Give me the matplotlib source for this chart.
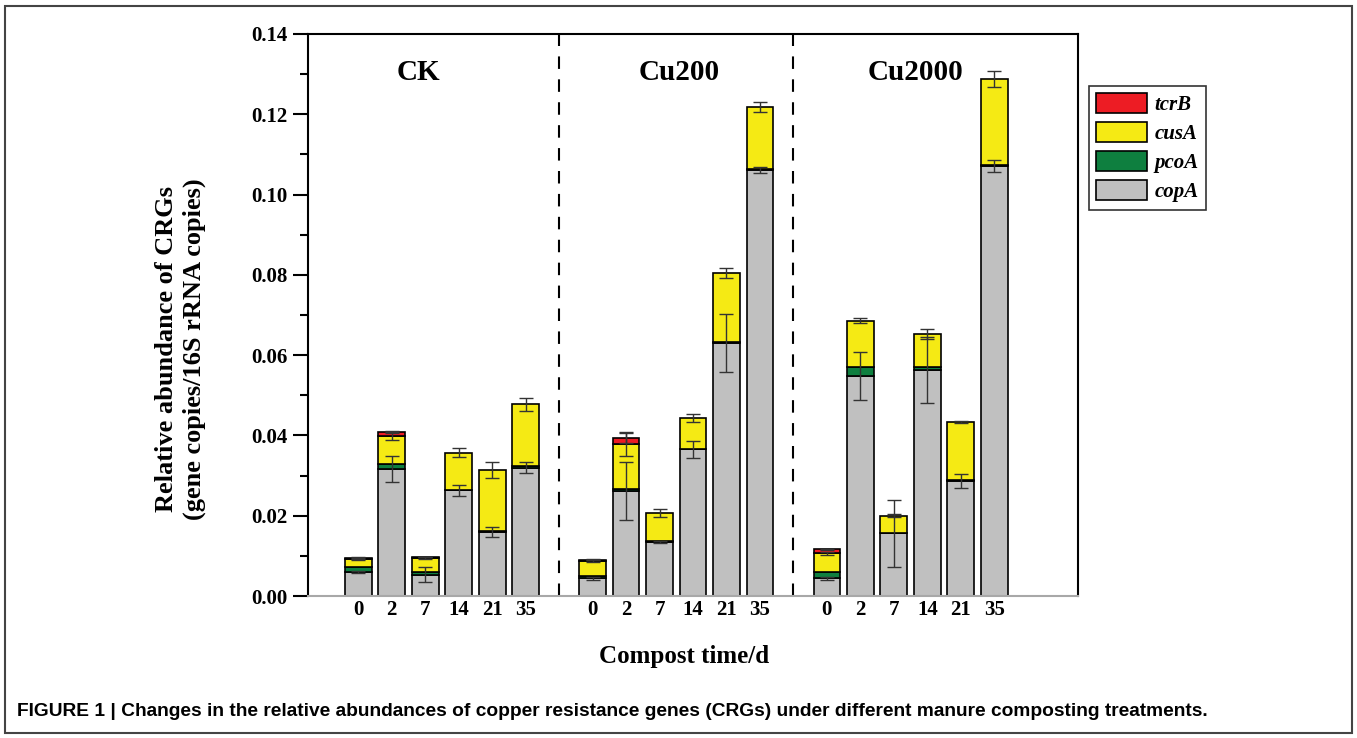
import matplotlib.pyplot as plt
import numpy as np
from matplotlib.patches import Rectangle, Patch

plt.rcParams['font.family'] = ['Liberation Serif', 'DejaVu Serif']

# data
groups = ['CK', 'Cu200', 'Cu2000']
days = ['0', '2', '7', '14', '21', '35']

copA = [0.0060, 0.0316, 0.0053, 0.0263, 0.0160, 0.0320,
        0.0044, 0.0262, 0.0135, 0.0365, 0.0630, 0.1061,
        0.0044, 0.0548, 0.0156, 0.0562, 0.0287, 0.1071]
pcoA = [0.0013, 0.0012, 0.0006, 0.0002, 0.0002, 0.0003,
        0.0007, 0.0004, 0.0002, 0.0002, 0.0002, 0.0002,
        0.0015, 0.0023, 0.0002, 0.0008, 0.0002, 0.0002]
cusA = [0.0018, 0.0071, 0.0036, 0.0092, 0.0153, 0.0155,
        0.0036, 0.0113, 0.0069, 0.0077, 0.0173, 0.0155,
        0.0047, 0.0115, 0.0042, 0.0083, 0.0144, 0.0214]
tcrB = [0.0004, 0.0010, 0.0001, 0.0, 0.0, 0.0,
        0.0003, 0.0014, 0.0, 0.0, 0.0, 0.0,
        0.0010, 0.0, 0.0, 0.0, 0.0, 0.0]

copA_err = [0.0003, 0.0033, 0.0018, 0.0013, 0.0013, 0.0013,
            0.0003, 0.0072, 0.0003, 0.0021, 0.0073, 0.0008,
            0.0003, 0.0060, 0.0083, 0.0082, 0.0018, 0.0015]
cusA_err = [0.0002, 0.0010, 0.0002, 0.0011, 0.0020, 0.0016,
            0.0002, 0.0030, 0.0010, 0.0010, 0.0013, 0.0012,
            0.0003, 0.0007, 0.0004, 0.0012, 0.0002, 0.0020]
tcrB_err = [0.0001, 0.0003, 0.0, 0.0, 0.0, 0.0,
            0.0001, 0.0012, 0.0, 0.0, 0.0, 0.0,
            0.0002, 0.0, 0.0, 0.0, 0.0, 0.0]

colors = {'tcrB': '#ED1C24', 'cusA': '#F5EA14', 'pcoA': '#0E7F3F', 'copA': '#C0C0C0'}

# positions: 6 bars per group, one empty slot between groups
x = np.array([g * 7 + i for g in range(3) for i in range(6)])

fig = plt.figure(figsize=(13.57, 7.38), dpi=100)
ax = fig.add_axes([308 / 1357, 1 - 596 / 738, (1078 - 308) / 1357, (596 - 34) / 738])

copA = np.array(copA); pcoA = np.array(pcoA); cusA = np.array(cusA); tcrB = np.array(tcrB)
b1 = copA
b2 = b1 + pcoA
b3 = b2 + cusA
b4 = b3 + tcrB

w = 0.8
ax.bar(x, copA, w, color=colors['copA'], edgecolor='black', linewidth=1.2, zorder=2)
ax.bar(x, pcoA, w, bottom=b1, color=colors['pcoA'], edgecolor='black', linewidth=1.2, zorder=2)
ax.bar(x, cusA, w, bottom=b2, color=colors['cusA'], edgecolor='black', linewidth=1.2, zorder=2)
m = tcrB > 0
ax.bar(x[m], tcrB[m], w, bottom=b3[m], color=colors['tcrB'], edgecolor='black', linewidth=1.2, zorder=2)

# error bars at top of each segment
ekw = dict(fmt='none', ecolor='#333333', elinewidth=1.0, capsize=5, capthick=1.0, zorder=3)
ax.errorbar(x, b1, yerr=copA_err, **ekw)
ax.errorbar(x, b3, yerr=cusA_err, **ekw)
tcrB_err = np.array(tcrB_err)
ax.errorbar(x[m], b4[m], yerr=tcrB_err[m], **ekw)

# group separators
for xs in [6, 13]:
    ax.axvline(xs, color='black', linestyle=(0, (6, 5)), linewidth=1.5, zorder=1)

ax.set_xlim(-1.5, 21.5)
ax.set_ylim(0, 0.14)
ax.set_xticks(x)
ax.set_xticklabels(days * 3, fontsize=15, fontweight='bold')
ax.tick_params(axis='x', length=0, pad=3)
ax.set_yticks(np.arange(0, 0.141, 0.02))
ax.set_yticklabels(['%.2f' % v for v in np.arange(0, 0.141, 0.02)], fontsize=15, fontweight='bold')
ax.set_yticks(np.arange(0.01, 0.14, 0.02), minor=True)
ax.tick_params(axis='y', which='major', length=11, width=1.5, direction='out', pad=4)
ax.tick_params(axis='y', which='minor', length=6, width=1.5, direction='out')

for s in ['left', 'top', 'right']:
    ax.spines[s].set_linewidth(1.5)
ax.spines['bottom'].set_color('#A8A8A8')
ax.spines['bottom'].set_linewidth(1.5)

group_x = [1.8, 9.6, 16.65]
for gx, name in zip(group_x, groups):
    ax.text(gx, 0.1303, name, fontsize=21, fontweight='bold', ha='center', va='center')

ax.set_xlabel('Compost time/d', fontsize=18, fontweight='bold')
ax.xaxis.set_label_coords((684 - 308) / 770, (596 - 645) / 562)
ax.set_ylabel('Relative abundance of CRGs\n(gene copies/16S rRNA copies)',
              fontsize=19, fontweight='bold', linespacing=1.25)
ax.yaxis.set_label_coords((206 - 308) / 770, 0.44)

handles = [Patch(facecolor=colors[k], edgecolor='black', linewidth=1.2) for k in ['tcrB', 'cusA', 'pcoA', 'copA']]
leg = fig.legend(handles, ['tcrB', 'cusA', 'pcoA', 'copA'], loc='upper left',
                 bbox_to_anchor=(1089 / 1357, 1 - 86 / 738), borderaxespad=0,
                 prop={'family': 'Liberation Serif', 'weight': 'bold', 'style': 'italic', 'size': 15},
                 frameon=True, fancybox=False, edgecolor='black', handlelength=2.45, handleheight=1.1,
                 labelspacing=0.33, borderpad=0.35, handletextpad=0.35)
leg.get_frame().set_linewidth(1.2)

fig.text(17 / 1357, 1 - 711 / 738,
         'FIGURE 1 | Changes in the relative abundances of copper resistance genes (CRGs) under different manure composting treatments.',
         fontsize=13.8, fontweight='bold', family='Liberation Sans', ha='left', va='center')

fig.patches.append(Rectangle((5 / 1357, 5 / 738), 1347 / 1357, 727 / 738, transform=fig.transFigure,
                             fill=False, edgecolor='#444444', linewidth=1.5))

fig.savefig('out.png', dpi=100)
